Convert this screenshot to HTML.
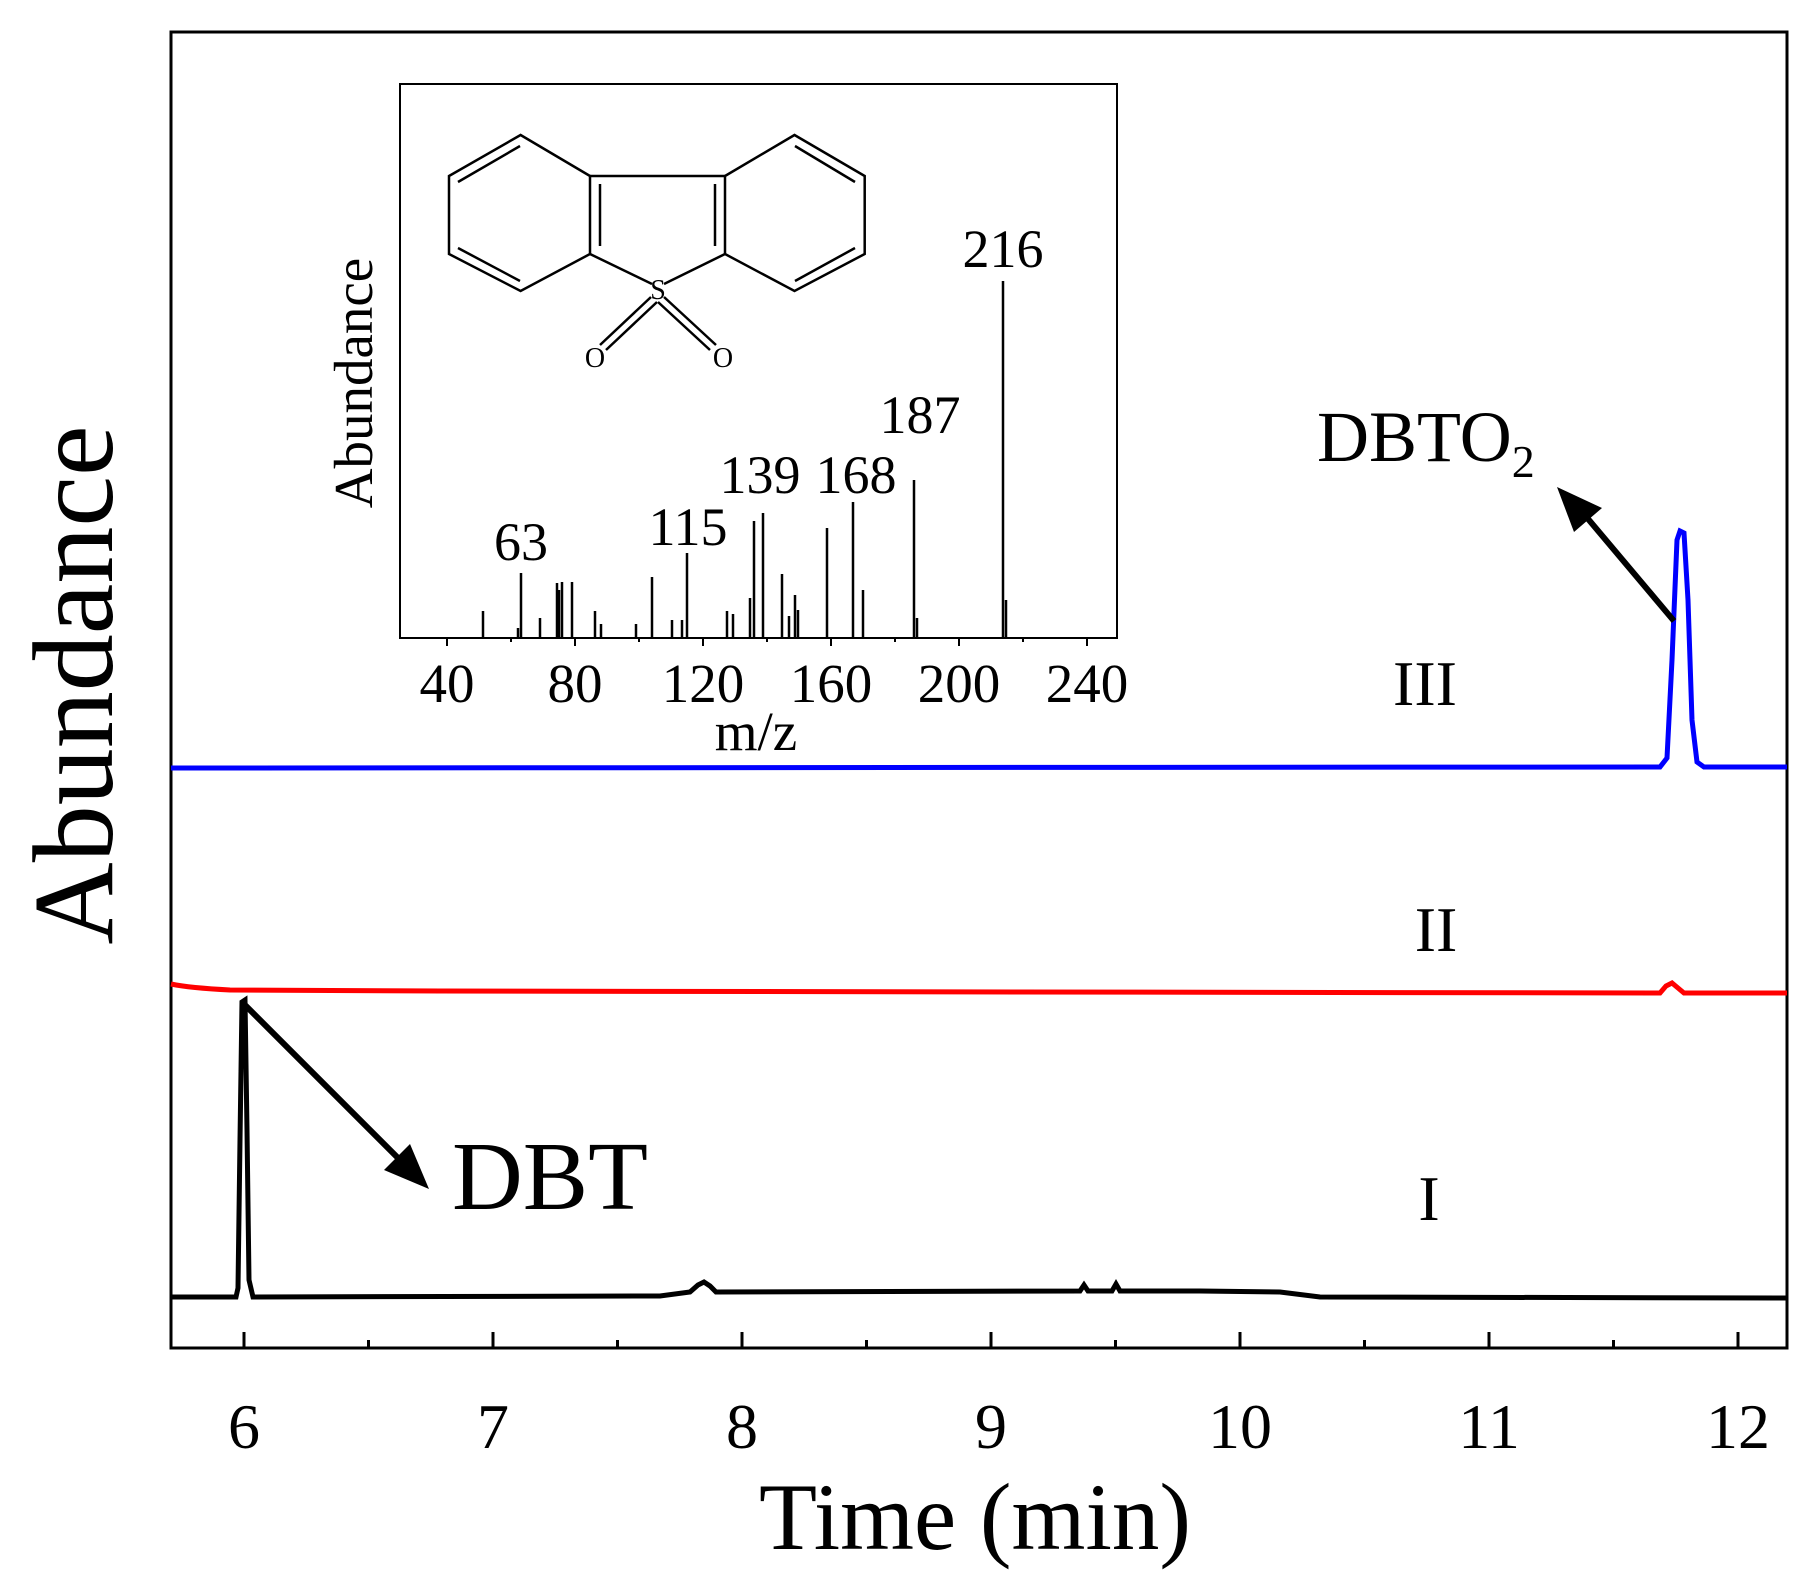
<!DOCTYPE html>
<html><head><meta charset="utf-8"><style>
html,body{margin:0;padding:0;background:#fff}
svg{display:block}
text{font-family:"Liberation Serif",serif;fill:#000}
</style></head><body>
<svg width="1810" height="1590" viewBox="0 0 1810 1590" xmlns="http://www.w3.org/2000/svg">
<rect x="171" y="32" width="1616" height="1316" fill="none" stroke="#000" stroke-width="3"/>
<g stroke="#000" stroke-width="3">
<line x1="244" y1="1348" x2="244" y2="1332"/><line x1="493" y1="1348" x2="493" y2="1332"/><line x1="742" y1="1348" x2="742" y2="1332"/><line x1="991" y1="1348" x2="991" y2="1332"/><line x1="1240" y1="1348" x2="1240" y2="1332"/><line x1="1489" y1="1348" x2="1489" y2="1332"/><line x1="1738" y1="1348" x2="1738" y2="1332"/>
<line x1="368.5" y1="1348" x2="368.5" y2="1340"/><line x1="617.5" y1="1348" x2="617.5" y2="1340"/><line x1="866.5" y1="1348" x2="866.5" y2="1340"/><line x1="1115.5" y1="1348" x2="1115.5" y2="1340"/><line x1="1364.5" y1="1348" x2="1364.5" y2="1340"/><line x1="1613.5" y1="1348" x2="1613.5" y2="1340"/>
</g>
<g font-size="64" text-anchor="middle">
<text x="244" y="1448">6</text><text x="493" y="1448">7</text><text x="742" y="1448">8</text><text x="991" y="1448">9</text><text x="1240" y="1448">10</text><text x="1489" y="1448">11</text><text x="1738" y="1448">12</text>
</g>
<text x="975" y="1549" font-size="95" text-anchor="middle">Time (min)</text>
<text transform="translate(112,685) rotate(-90)" font-size="114" text-anchor="middle">Abundance</text>

<path d="M171,1297 L236,1297 L238,1288 L240,1140 L242,1002 L245,1000 L247,1130 L249,1280 L253,1297 L660,1296 L690,1292 L698,1285 L704,1282 L710,1286 L716,1292 L1080,1291 L1084,1285 L1088,1291 L1112,1291 L1116,1284 L1120,1291 L1200,1291 L1280,1292 L1320,1297 L1787,1298" fill="none" stroke="#000" stroke-width="5"/>
<path d="M171,984 Q190,988 230,990 L440,991 L1660,993 L1666,986 L1672,983 L1678,988 L1684,993 L1787,993" fill="none" stroke="#f00" stroke-width="5"/>
<path d="M171,768 L1660,767 L1667,758 L1672,660 L1677,540 L1680,531 L1684,533 L1688,600 L1692,720 L1697,762 L1704,767 L1787,767" fill="none" stroke="#00f" stroke-width="5"/>

<g font-size="64" text-anchor="middle">
<text x="1425" y="705">III</text><text x="1436" y="951">II</text><text x="1429" y="1220">I</text>
</g>
<text x="452" y="1209" font-size="98">DBT</text>
<text x="1317" y="461" font-size="72">DBTO<tspan font-size="46" dy="16">2</tspan></text>
<line x1="244" y1="1004" x2="408" y2="1168" stroke="#000" stroke-width="6"/>
<polygon points="429,1189 384,1170 410,1144" fill="#000"/>
<line x1="1674" y1="621" x2="1578" y2="507" stroke="#000" stroke-width="6"/>
<polygon points="1557,487 1602,508 1574,532" fill="#000"/>

<rect x="400" y="84" width="717" height="554" fill="#fff" stroke="#000" stroke-width="2"/>
<g stroke="#000" stroke-width="2">
<line x1="447" y1="638" x2="447" y2="646"/><line x1="575" y1="638" x2="575" y2="646"/><line x1="703" y1="638" x2="703" y2="646"/><line x1="831" y1="638" x2="831" y2="646"/><line x1="959" y1="638" x2="959" y2="646"/><line x1="1087" y1="638" x2="1087" y2="646"/>
<line x1="511" y1="638" x2="511" y2="642"/><line x1="639" y1="638" x2="639" y2="642"/><line x1="767" y1="638" x2="767" y2="642"/><line x1="895" y1="638" x2="895" y2="642"/><line x1="1023" y1="638" x2="1023" y2="642"/>
</g>
<g font-size="55" text-anchor="middle">
<text x="447" y="702">40</text><text x="575" y="702">80</text><text x="703" y="702">120</text><text x="831" y="702">160</text><text x="959" y="702">200</text><text x="1087" y="702">240</text>
</g>
<text x="756" y="750" font-size="55" text-anchor="middle">m/z</text>
<text transform="translate(372,383) rotate(-90)" font-size="55" text-anchor="middle">Abundance</text>
<g stroke="#000" stroke-width="2.5">
<line x1="1003" y1="638" x2="1003" y2="281"/>
<line x1="1006" y1="638" x2="1006" y2="600"/>
<line x1="914" y1="638" x2="914" y2="480"/>
<line x1="917" y1="638" x2="917" y2="618"/>
<line x1="853" y1="638" x2="853" y2="502"/>
<line x1="863" y1="638" x2="863" y2="590"/>
<line x1="827" y1="638" x2="827" y2="528"/>
<line x1="763" y1="638" x2="763" y2="513"/>
<line x1="754" y1="638" x2="754" y2="521"/>
<line x1="750" y1="638" x2="750" y2="598"/>
<line x1="782" y1="638" x2="782" y2="574"/>
<line x1="795" y1="638" x2="795" y2="595"/>
<line x1="798" y1="638" x2="798" y2="610"/>
<line x1="789" y1="638" x2="789" y2="616"/>
<line x1="727" y1="638" x2="727" y2="611"/>
<line x1="733" y1="638" x2="733" y2="614"/>
<line x1="687" y1="638" x2="687" y2="553"/>
<line x1="652" y1="638" x2="652" y2="577"/>
<line x1="682" y1="638" x2="682" y2="620"/>
<line x1="672" y1="638" x2="672" y2="620"/>
<line x1="636" y1="638" x2="636" y2="624"/>
<line x1="521" y1="638" x2="521" y2="573"/>
<line x1="557" y1="638" x2="557" y2="583"/>
<line x1="562" y1="638" x2="562" y2="582"/>
<line x1="559" y1="638" x2="559" y2="590"/>
<line x1="572" y1="638" x2="572" y2="582"/>
<line x1="483" y1="638" x2="483" y2="611"/>
<line x1="540" y1="638" x2="540" y2="618"/>
<line x1="595" y1="638" x2="595" y2="611"/>
<line x1="601" y1="638" x2="601" y2="624"/>
<line x1="518" y1="638" x2="518" y2="628"/>
</g>
<g font-size="54" text-anchor="middle">
<text x="1003" y="267">216</text><text x="920" y="433">187</text><text x="760" y="493">139</text><text x="856" y="493">168</text><text x="688" y="545">115</text><text x="521" y="560">63</text>
</g>
<g fill="none" stroke="#000" stroke-width="2.5">
<polygon points="520.6,135 590,176 590,254 520.6,291 449,254 449,176"/>
<polygon points="794.5,135 725,176 725,254 794.5,291 864.7,254 864.7,176"/>
<line x1="590" y1="176" x2="725" y2="176"/>
<line x1="590" y1="254" x2="652" y2="284"/>
<line x1="725" y1="254" x2="664" y2="284"/>
<line x1="458" y1="182" x2="520" y2="146"/>
<line x1="458" y1="248" x2="520" y2="281"/>
<line x1="600" y1="184" x2="600" y2="246"/>
<line x1="855" y1="182" x2="795" y2="146"/>
<line x1="855" y1="248" x2="795" y2="281"/>
<line x1="715" y1="184" x2="715" y2="246"/>
<line x1="651" y1="297" x2="600" y2="345"/>
<line x1="657" y1="302" x2="606" y2="350"/>
<line x1="664" y1="297" x2="716" y2="345"/>
<line x1="658" y1="302" x2="710" y2="350"/>
</g>
<g font-size="28" text-anchor="middle">
<text x="658" y="299">S</text><text x="595" y="367">O</text><text x="723" y="367">O</text>
</g>
</svg>
</body></html>
